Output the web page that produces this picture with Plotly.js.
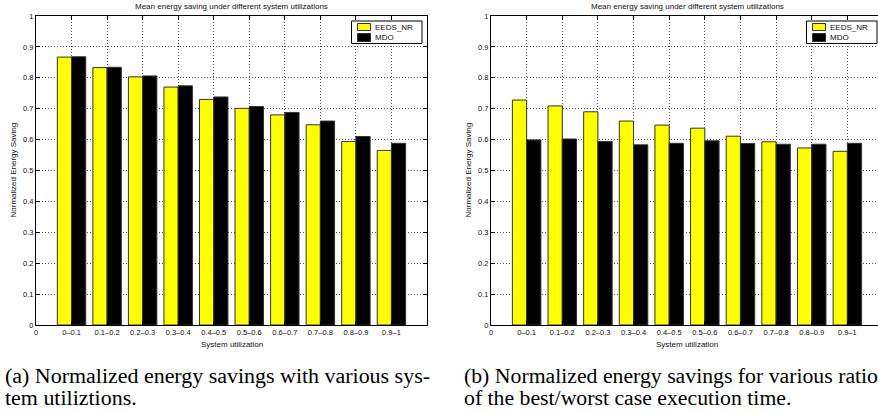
<!DOCTYPE html>
<html>
<head>
<meta charset="utf-8">
<script src="https://cdn.plot.ly/plotly-3.0.1.min.js"></script>
<style>
html,body{margin:0;padding:0;background:#fff;overflow:hidden;width:878px;height:413px;}
#wrap{position:relative;width:878px;height:413px;overflow:hidden;}
#chart{position:absolute;left:0;top:0;width:884px;height:413px;}
.cap{position:absolute;font-family:'Liberation Serif','Times New Roman',serif;font-size:20px;line-height:22px;color:#000;white-space:nowrap;transform-origin:0 0;}
</style>
</head>
<body>
<div id="wrap">
<div id="chart"></div>
<div class="cap" id="capA"></div>
<div class="cap" id="capB"></div>
</div>
<script>
// ---- data ----
const categories = ['0–0.1','0.1–0.2','0.2–0.3','0.3–0.4','0.4–0.5','0.5–0.6','0.6–0.7','0.7–0.8','0.8–0.9','0.9–1'];
const seriesNames = ['EEDS_NR','MDO'];
const eedsA = [0.867,0.833,0.803,0.770,0.730,0.701,0.680,0.648,0.594,0.565];
const mdoA  = [0.868,0.834,0.806,0.774,0.738,0.707,0.688,0.660,0.610,0.588];
const eedsB = [0.728,0.709,0.690,0.660,0.647,0.637,0.611,0.593,0.573,0.562];
const mdoB  = [0.599,0.602,0.594,0.583,0.588,0.596,0.587,0.585,0.585,0.588];
const yTicks = [0,0.1,0.2,0.3,0.4,0.5,0.6,0.7,0.8,0.9,1];
const chartTitle = 'Mean energy saving under different system utilizations';
const xTitle = 'System utilization';
const yTitle = 'Normalized Energy Saving';
const captionA = ['(a) Normalized energy savings with various sys-','tem utiliztions.'];
const captionB = ['(b) Normalized energy savings for various ratio','of the best/worst case execution time.'];

const W = 884, H = 413;
const xpos = categories.map((c,i)=>i+1);
const tickVals = [0].concat(xpos);
const tickText = ['0'].concat(categories);
const colors = ['#ffff00','#000000'];

function bar(y, k, xa, ya){
  return {type:'bar', x:xpos, y:y, name:seriesNames[k], xaxis:xa, yaxis:ya, showlegend:false,
    marker:{color:colors[k], line:{color:'#333', width:1}}, hoverinfo:'y'};
}
const data = [
  bar(eedsA,0,'x','y'), bar(mdoA,1,'x','y'),
  bar(eedsB,0,'x2','y2'), bar(mdoB,1,'x2','y2')
];

const px = v=>v/W, py = v=>1-v/H;
const axFont = {family:'Liberation Sans, Arial, sans-serif', size:7.5, color:'#111'};
function xaxis(d0,d1,anchor){
  return {domain:[px(d0),px(d1)], anchor:anchor, range:[0,11], tickmode:'array', tickvals:tickVals, ticktext:tickText,
    ticks:'inside', ticklen:4, tickcolor:'#000', showline:true, linecolor:'#000', linewidth:1, mirror:'ticks',
    showgrid:true, gridcolor:'#555', griddash:'1px,2px', gridwidth:1, zeroline:false, tickfont:axFont, fixedrange:true};
}
function yaxis(anchor){
  return {domain:[py(325),py(16)], anchor:anchor, range:[0,1], tickmode:'array', tickvals:yTicks,
    ticks:'inside', ticklen:4, tickcolor:'#000', showline:true, linecolor:'#000', linewidth:1, mirror:'ticks',
    showgrid:true, gridcolor:'#555', griddash:'1px,2px', gridwidth:1, zeroline:false, tickfont:axFont, fixedrange:true};
}
const small = {family:'Liberation Sans, Arial, sans-serif', size:8, color:'#111'};
const ann = [], shapes = [];
[[36,427],[491,883]].forEach((p,i)=>{
  const cx = (p[0]+p[1])/2;
  ann.push({xref:'paper',yref:'paper',x:px(cx),y:py(7),text:chartTitle,showarrow:false,font:small,xanchor:'center',yanchor:'middle'});
  ann.push({xref:'paper',yref:'paper',x:px(cx),y:py(344),text:xTitle,showarrow:false,font:small,xanchor:'center',yanchor:'middle'});
  ann.push({xref:'paper',yref:'paper',x:px(p[0]-23),y:py(170.5),text:yTitle,showarrow:false,font:small,textangle:-90,xanchor:'center',yanchor:'middle'});
  // legend box
  const off = p[0]-36;
  shapes.push({type:'rect',xref:'paper',yref:'paper',x0:px(351.5+off),x1:px(422+off),y0:py(21),y1:py(43.5),
    line:{color:'#000',width:1},fillcolor:'#fff',layer:'above'});
  [[23.5,30.5],[33.5,41.5]].forEach((r,k)=>{
    shapes.push({type:'rect',xref:'paper',yref:'paper',x0:px(357.5+off),x1:px(370.5+off),y0:py(r[0]),y1:py(r[1]),
      line:{color:'#333',width:1},fillcolor:colors[k],layer:'above'});
    ann.push({xref:'paper',yref:'paper',x:px(373+off),y:py((r[0]+r[1])/2),text:seriesNames[k],showarrow:false,
      font:small,xanchor:'left',yanchor:'middle'});
  });
});
const layout = {
  width:W, height:H, margin:{l:0,r:0,t:0,b:0}, paper_bgcolor:'#fff', plot_bgcolor:'#fff',
  barmode:'group', bargap:0.2, bargroupgap:0, showlegend:false,
  xaxis:xaxis(36,427,'y'), yaxis:yaxis('x'),
  xaxis2:xaxis(491,883,'y2'), yaxis2:yaxis('x2'),
  annotations:ann, shapes:shapes
};
Plotly.newPlot('chart', data, layout, {displayModeBar:false, staticPlot:true});

function caption(id, lines, left, top, targetW){
  const el = document.getElementById(id);
  el.innerHTML = lines.map(s=>'<div>'+s+'</div>').join('');
  el.style.left = left+'px'; el.style.top = top+'px';
  const w = el.firstChild.getBoundingClientRect().width;
  el.style.transform = 'scaleX('+(targetW/w)+')';
}
caption('capA', captionA, 5, 365, 425);
caption('capB', captionB, 464, 365, 414);
</script>
</body>
</html>
